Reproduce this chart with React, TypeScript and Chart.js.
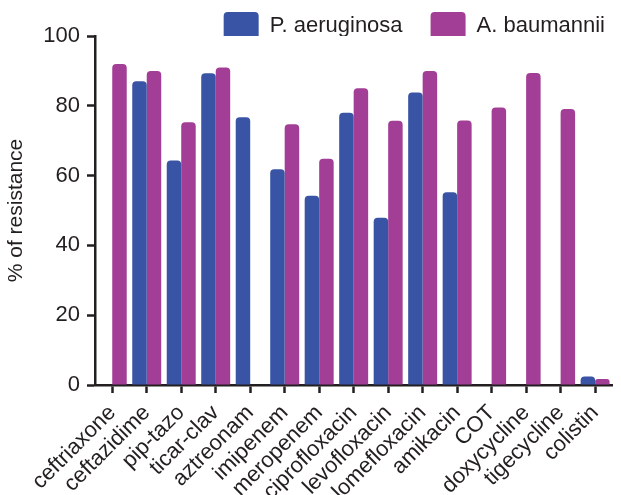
import React, { useEffect, useRef } from "react";
import { Chart, registerables } from "chart.js";

Chart.register(...registerables);

const categories = [
  "ceftriaxone", "ceftazidime", "pip-tazo", "ticar-clav", "aztreonam", "imipenem",
  "meropenem", "ciprofloxacin", "levofloxacin", "lomefloxacin", "amikacin", "COT",
  "doxycycline", "tigecycline", "colistin",
];
const pAeruginosa = [null, 87.0, 64.3, 89.3, 76.7, 61.8, 54.2, 78.0, 47.9, 83.8, 55.2, null, null, null, 2.4];
const aBaumannii = [92.0, 90.0, 75.3, 91.0, null, 74.7, 64.8, 85.0, 75.7, 90.0, 75.8, 79.5, 89.4, 79.1, 1.7];
const seriesNames = ["P. aeruginosa", "A. baumannii"];
const yTicks = [0, 20, 40, 60, 80, 100];

const BLUE = "#3954a5";
const MAGENTA = "#a33e96";
const INK = "#231f20";
const FONT = "'Liberation Sans', Arial, Helvetica, sans-serif";

const LEGEND_PAD = 28;
const LEGEND_LAYOUT_H = 36;

// Lets the legend overlap the area above the plot, as in the reference.
const legendTweak = {
  id: "legendTweak",
  beforeLayout(chart: any) {
    const lg = chart.legend;
    if (lg && !lg.__patched) {
      const orig = lg.fit.bind(lg);
      lg.fit = () => {
        orig();
        lg.height = LEGEND_LAYOUT_H;
      };
      lg.__patched = true;
    }
  },
  afterLayout(chart: any) {
    const lg = chart.legend;
    if (!lg) return;
    lg.top = 12 - LEGEND_PAD;
    lg.right = chart.width + 12;
  },
};

export default function App() {
  const ref = useRef<HTMLCanvasElement | null>(null);
  useEffect(() => {
    if (!ref.current) return;
    const chart = new Chart(ref.current, {
      type: "bar",
      data: {
        labels: categories,
        datasets: [
          { label: seriesNames[0], data: pAeruginosa as any, backgroundColor: BLUE, borderRadius: 4, categoryPercentage: 0.84, barPercentage: 1 },
          { label: seriesNames[1], data: aBaumannii as any, backgroundColor: MAGENTA, borderRadius: 4, categoryPercentage: 0.84, barPercentage: 1 },
        ],
      },
      plugins: [legendTweak],
      options: {
        animation: false,
        responsive: false,
        layout: { padding: { left: 0, right: 7, top: 0, bottom: 0 } },
        plugins: {
          tooltip: { enabled: false },
          legend: {
            position: "top",
            align: "end",
            labels: {
              font: { family: FONT, size: 22 },
              color: INK,
              boxWidth: 35,
              boxHeight: 27,
              useBorderRadius: true,
              borderRadius: 4,
              padding: LEGEND_PAD,
            },
          },
        },
        scales: {
          x: {
            grid: { display: true, drawOnChartArea: false, drawTicks: true, tickLength: 8, tickWidth: 2.5, tickColor: INK, offset: false },
            border: { display: true, color: INK, width: 2.5 },
            ticks: { font: { family: FONT, size: 22 }, color: INK, minRotation: 45, maxRotation: 45, autoSkip: false, padding: 7 },
            afterFit: (s: any) => { s.height = 110; },
          },
          y: {
            min: 0,
            max: 100,
            afterBuildTicks: (s: any) => { s.ticks = yTicks.map((v) => ({ value: v })); },
            grid: { display: true, drawOnChartArea: false, drawTicks: true, tickLength: 8, tickWidth: 2.5, tickColor: INK },
            border: { display: true, color: INK, width: 2.5 },
            ticks: { font: { family: FONT, size: 22 }, color: INK, padding: 7 },
            title: { display: true, text: "% of resistance", font: { family: FONT, size: 21 }, color: INK, padding: 4 },
            afterFit: (s: any) => { s.width = 95; },
          },
        },
      },
    });
    return () => chart.destroy();
  }, []);
  return (
    <div style={{ position: "fixed", left: 0, top: 0, width: 621, height: 495, background: "#fff" }}>
      <canvas ref={ref} width={621} height={495} />
    </div>
  );
}
